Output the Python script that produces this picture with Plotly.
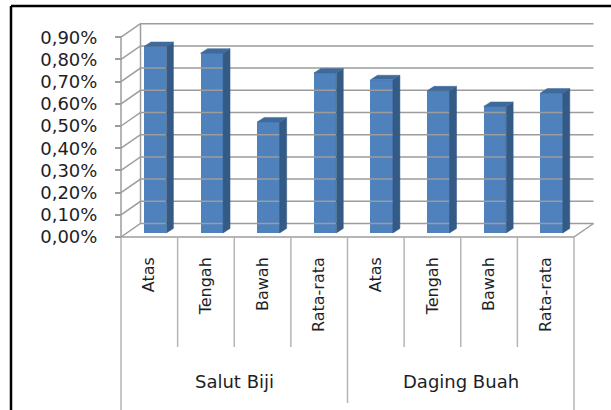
import plotly.graph_objects as go

# ---- data (percent) ----
groups = ["Salut Biji", "Daging Buah"]
sub_labels = ["Atas", "Tengah", "Bawah", "Rata-rata"]
salut_biji = [0.84, 0.81, 0.50, 0.72]
daging_buah = [0.69, 0.64, 0.57, 0.63]
y_ticks = [0.0, 0.1, 0.2, 0.3, 0.4, 0.5, 0.6, 0.7, 0.8, 0.9]
y_tick_text = [f"{t:.2f}%".replace(".", ",") for t in y_ticks]

values = salut_biji + daging_buah
labels = sub_labels + sub_labels
n = len(values)
pos = list(range(n))

W, H = 611, 410
PX_X = 56.625            # pixels per category
PX_Y = 222.0             # pixels per 1 %
X_LEFT_PX = 121          # front-left corner of the plot box
Y_ZERO_PX = 237          # front floor line

x_range = [-0.5 - X_LEFT_PX / PX_X, -0.5 + (W - X_LEFT_PX) / PX_X]
y_range = [-(H - Y_ZERO_PX) / PX_Y, Y_ZERO_PX / PX_Y]

def py(p):
    """pixel row -> data value"""
    return (Y_ZERO_PX - p) / PX_Y

# oblique depth of the walls
DX = 19.5 / PX_X
DY = 13.5 / PX_Y
# bar placement / size
BX, BY = 0.3 * DX, 0.3 * DY
BW = 22.5 / PX_X
BDX, BDY = 7.0 / PX_X, 4.5 / PX_Y

GRID = "#9c9c9c"
TABLE = "#b5b5b5"
FRONT = "#4f81bd"
SIDE = "#345a86"
TOP = "#3f6a9c"
TXT = "#1e1e28"
FONT = "DejaVu Sans"

fig = go.Figure()

# back wall gridlines + left wall diagonals
xs, ys = [], []
x_lo, x_hi = -0.5, n - 0.5
for t in y_ticks:
    xs += [x_lo, x_lo + DX, x_hi + DX, None]
    ys += [t, t + DY, t + DY, None]
# back-left vertical edge, front axis line, floor right edge, floor front edge
xs += [x_lo + DX, x_lo + DX, None, x_lo, x_lo, None, x_hi, x_hi + DX, None, x_lo, x_hi, None]
ys += [DY, y_ticks[-1] + DY, None, 0, y_ticks[-1], None, 0, DY, None, 0, 0, None]
fig.add_trace(go.Scatter(x=xs, y=ys, mode="lines", line=dict(color=GRID, width=1.5),
                         hoverinfo="skip", showlegend=False))

# category table below the floor
txs, tys = [], []
for k in range(n + 1):
    xk = k - 0.5
    if k in (0, n):
        bottom = y_range[0]
    elif k == len(sub_labels):
        bottom = py(403)
    else:
        bottom = py(347)
    txs += [xk, xk, None]
    tys += [0, bottom, None]
fig.add_trace(go.Scatter(x=txs, y=tys, mode="lines", line=dict(color=TABLE, width=1.5),
                         hoverinfo="skip", showlegend=False))

# side and top faces of each bar
sx, sy, tx, ty = [], [], [], []
for i, v in zip(pos, values):
    xl = i + BX - BW / 2
    xr = i + BX + BW / 2
    b = BY
    sx += [xr, xr + BDX, xr + BDX, xr, xr, None]
    sy += [b, b + BDY, b + v + BDY, b + v, b, None]
    tx += [xl, xr, xr + BDX, xl + BDX, xl, None]
    ty += [b + v, b + v, b + v + BDY, b + v + BDY, b + v, None]
fig.add_trace(go.Scatter(x=sx, y=sy, mode="lines", fill="toself", fillcolor=SIDE,
                         line=dict(color=SIDE, width=0.5), hoverinfo="skip", showlegend=False))
fig.add_trace(go.Scatter(x=tx, y=ty, mode="lines", fill="toself", fillcolor=TOP,
                         line=dict(color=TOP, width=0.5), hoverinfo="skip", showlegend=False))

# front faces
fig.add_trace(go.Bar(x=[p + BX for p in pos], y=values, base=BY, width=BW,
                     marker=dict(color=FRONT, line=dict(width=0)), showlegend=False))

# group labels
for g, name in enumerate(groups):
    fig.add_annotation(x=g * len(sub_labels) + (len(sub_labels) - 1) / 2, y=py(381),
                       text=name, showarrow=False, xanchor="center", yanchor="middle",
                       font=dict(family=FONT, size=18, color=TXT))

fig.update_layout(
    width=W, height=H,
    margin=dict(l=0, r=0, t=0, b=0),
    paper_bgcolor="white", plot_bgcolor="white",
    bargap=0,
    xaxis=dict(range=x_range, showgrid=False, zeroline=False, showline=False,
               tickmode="array", tickvals=pos, ticktext=labels, tickangle=-90,
               ticks="", anchor="free", position=(H - Y_ZERO_PX) / H,
               ticklabelstandoff=16,
               tickfont=dict(family=FONT, size=16, color=TXT)),
    yaxis=dict(range=y_range, showgrid=False, zeroline=False, showline=False,
               tickmode="array", tickvals=y_ticks, ticktext=y_tick_text,
               ticks="outside", ticklen=6, tickcolor=GRID, tickwidth=1.5,
               anchor="free", position=X_LEFT_PX / W, ticklabelstandoff=14,
               tickfont=dict(family=FONT, size=18, color=TXT)),
    shapes=[
        dict(type="line", xref="paper", yref="paper", x0=11 / W, x1=11 / W,
             y0=0, y1=1 - 6 / H, line=dict(color="black", width=2.5)),
        dict(type="line", xref="paper", yref="paper", x0=11 / W, x1=1,
             y0=1 - 6 / H, y1=1 - 6 / H, line=dict(color="black", width=2.5)),
    ],
)

fig.write_html("out.html")
